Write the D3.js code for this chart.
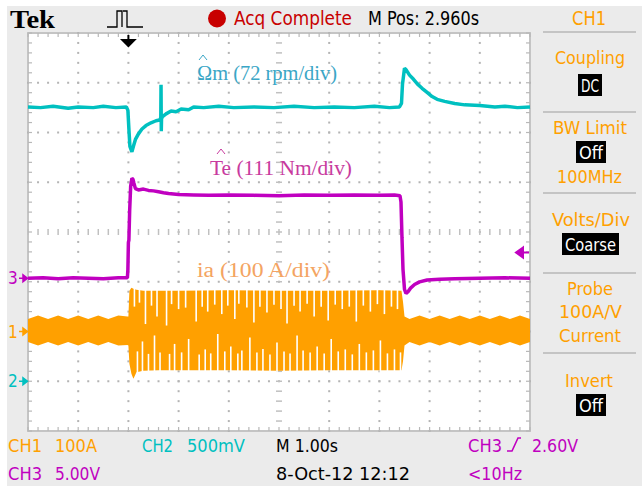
<!DOCTYPE html>
<html>
<head>
<meta charset="utf-8">
<script src="https://cdn.jsdelivr.net/npm/d3@7"></script>
<style>
body { margin: 0; background: #fff; }
</style>
</head>
<body>
<svg id="scope"></svg>
<script>
const W = 642, H = 486;
const X0 = 28, X1 = 530, Y0 = 33, Y1 = 431;

// time in s across the screen (M 1.00s/div, 10 div)
// CH2 : rotor speed, 72 rpm/div, ground marker at -3 div
const speedT = [0, 0.25, 0.5, 0.8, 1.0, 1.3, 1.5, 1.75, 1.96, 1.99, 2.01, 2.03, 2.07, 2.1, 2.14, 2.2, 2.27, 2.35, 2.45, 2.55, 2.62, 2.645, 2.65, 2.655, 2.66, 2.68, 2.75, 2.85, 2.95, 3.05, 3.2, 3.3, 3.5, 3.8, 4.1, 4.5, 4.9, 5.3, 5.7, 6.1, 6.5, 6.9, 7.2, 7.4, 7.44, 7.46, 7.5, 7.54, 7.6, 7.68, 7.76, 7.85, 7.95, 8.05, 8.15, 8.3, 8.5, 8.7, 9.0, 9.3, 9.5, 9.75, 10];
const speedRpm = [397, 396, 398, 395, 397, 396, 398, 396, 397, 392, 365, 340, 332, 340, 350, 358, 365, 370, 374, 377, 378, 381, 429, 362, 380, 383, 387, 391, 390, 394, 393, 397, 396, 398, 396, 397, 396, 398, 396, 397, 396, 398, 396, 397, 402, 430, 453, 450, 443, 437, 430, 424, 418, 412, 408, 405, 402, 400, 399, 397, 398, 396, 397];

// CH3 : electromagnetic torque, 111 Nm/div
const torqueT = [0, 0.3, 0.6, 0.9, 1.2, 1.5, 1.8, 1.98, 1.99, 2.0, 2.01, 2.025, 2.045, 2.07, 2.09, 2.11, 2.14, 2.2, 2.3, 2.4, 2.5, 2.6, 2.7, 2.8, 3.0, 3.3, 3.6, 4.0, 4.5, 5.0, 5.5, 6.0, 6.5, 7.0, 7.3, 7.41, 7.43, 7.45, 7.47, 7.5, 7.53, 7.57, 7.62, 7.7, 7.8, 7.95, 8.2, 8.5, 9.0, 9.5, 10];
const torqueNm = [0, 1, -1, 1, 0, -1, 1, 1, 20, 80, 85, 150, 205, 223, 221, 212, 200, 197, 199, 196, 195, 193, 191, 189, 187, 186, 185, 186, 185, 184, 186, 185, 186, 185, 186, 184, 170, 90, 20, -25, -34, -30, -22, -14, -8, -4, -2, -1, 0, 1, 0];

// CH1 : phase current envelope, 100 A/div
const iaT = [0, 0.2, 0.4, 0.6, 0.8, 1.0, 1.2, 1.4, 1.6, 1.8, 1.98, 2.0, 2.02, 2.06, 2.1, 2.16, 2.3, 2.6, 3.0, 4.0, 5.0, 6.0, 7.0, 7.44, 7.47, 7.5, 7.6, 7.8, 8.0, 8.2, 8.4, 8.6, 8.8, 9.0, 9.2, 9.4, 9.6, 9.8, 10];
const iaHigh = [25, 32, 25, 32, 25, 32, 25, 32, 25, 32, 30, 30, 82, 88, 86, 84, 82, 82, 82, 83, 82, 82, 83, 82, 60, 30, 25, 32, 25, 32, 25, 32, 25, 32, 25, 32, 25, 32, 25];
const iaLow = [-21, -28, -21, -28, -21, -28, -21, -28, -21, -28, -27, -28, -65, -85, -95, -82, -79, -78, -78, -78, -79, -78, -78, -78, -60, -28, -21, -28, -21, -28, -21, -28, -21, -28, -21, -28, -21, -28, -21];

// gaps in the current trace (aliasing stripes)
const stripeT = [2.12, 2.22, 2.34, 2.46, 2.57, 2.76, 2.86, 3.0, 3.14, 3.35, 3.47, 3.58, 3.72, 3.86, 3.98, 4.12, 4.2, 4.36, 4.5, 4.62, 4.76, 4.9, 5.04, 5.16, 5.3, 5.42, 5.56, 5.7, 5.84, 5.98, 6.12, 6.26, 6.4, 6.54, 6.68, 6.82, 6.96, 7.1, 7.24, 7.36];
const stripeTop = [50, 58, 15, 52, 30, 12, 55, 45, 48, 20, 50, 40, 54, 35, 52, 25, 56, 48, 18, 50, 38, 54, 45, 16, 52, 40, 56, 30, 50, 22, 54, 45, 50, 20, 52, 40, 55, 35, 50, 45];
const stripeBot = [-40, -20, -45, -8, -42, -45, -25, -42, -15, -46, -36, -44, -5, -40, -30, -44, -38, -12, -42, -35, -46, -22, -40, -44, -8, -38, -42, -30, -44, -15, -40, -36, -46, -25, -42, -38, -18, -44, -36, -42];

const CYAN = '#00c0c0', MAGENTA = '#c000c0', ORANGE = '#ffa000', RED = '#c80000';
const FONT = '"DejaVu Sans Condensed", "Liberation Sans Narrow", sans-serif';

const svg = d3.select('#scope').attr('width', W).attr('height', H);

svg.append('rect').attr('width', W).attr('height', H).attr('fill', '#fff');
svg.append('rect').attr('x', 7).attr('y', 6).attr('width', W - 7).attr('height', H - 6).attr('fill', '#ebebeb');

const x = d3.scaleLinear().domain([0, 10]).range([X0, X1]);
const y = d3.scaleLinear().domain([-4, 4]).range([Y1, Y0]);

// channel offsets in div
const ch1Pos = -2, ch2Pos = -3, ch3Pos = -0.93;
const ySpeed = v => y(v / 72 + ch2Pos);
const yTorque = v => y(v / 111 + ch3Pos);
const yCurrent = v => y(v / 100 + ch1Pos);

// graticule
svg.append('rect')
	.attr('x', X0).attr('y', Y0).attr('width', X1 - X0).attr('height', Y1 - Y0)
	.attr('fill', '#fff').attr('stroke', '#c4c4c4').attr('stroke-width', 2);

const grid = svg.append('g');
const minorX = d3.range(0, 10.001, 0.2);
const minorY = d3.range(-4, 4.001, 0.2);

// dotted major lines
d3.range(-3, 4).filter(d => d !== 0).forEach(row => {
	grid.selectAll(null).data(minorX).enter().append('rect')
		.attr('x', d => x(d) - 1).attr('y', y(row) - 1).attr('width', 2).attr('height', 2)
		.attr('fill', '#b4b4b4');
});
d3.range(1, 10).filter(d => d !== 5).forEach(col => {
	grid.selectAll(null).data(minorY).enter().append('rect')
		.attr('x', x(col) - 1).attr('y', d => y(d) - 1).attr('width', 2).attr('height', 2)
		.attr('fill', '#b4b4b4');
});

// centre lines with tick marks
grid.selectAll(null).data(minorX).enter().append('line')
	.attr('x1', d => x(d)).attr('x2', d => x(d))
	.attr('y1', y(0) - 3).attr('y2', y(0) + 3)
	.attr('stroke', '#c0c0c0').attr('stroke-width', 1.5);
grid.selectAll(null).data(minorY).enter().append('line')
	.attr('y1', d => y(d)).attr('y2', d => y(d))
	.attr('x1', x(5) - 3).attr('x2', x(5) + 3)
	.attr('stroke', '#c0c0c0').attr('stroke-width', 1.5);

// border ticks
grid.selectAll(null).data(minorX).enter().append('line')
	.attr('x1', d => x(d)).attr('x2', d => x(d)).attr('y1', Y0).attr('y2', Y0 + 4)
	.attr('stroke', '#b8b8b8').attr('stroke-width', 1.2);
grid.selectAll(null).data(minorX).enter().append('line')
	.attr('x1', d => x(d)).attr('x2', d => x(d)).attr('y1', Y1).attr('y2', Y1 - 4)
	.attr('stroke', '#b8b8b8').attr('stroke-width', 1.2);
grid.selectAll(null).data(minorY).enter().append('line')
	.attr('y1', d => y(d)).attr('y2', d => y(d)).attr('x1', X0).attr('x2', X0 + 4)
	.attr('stroke', '#b8b8b8').attr('stroke-width', 1.2);
grid.selectAll(null).data(minorY).enter().append('line')
	.attr('y1', d => y(d)).attr('y2', d => y(d)).attr('x1', X1).attr('x2', X1 - 4)
	.attr('stroke', '#b8b8b8').attr('stroke-width', 1.2);

// CH1 current
const iaData = iaT.map((t, i) => [t, iaHigh[i], iaLow[i]]);
svg.append('path')
	.datum(iaData)
	.attr('fill', ORANGE)
	.attr('d', d3.area().x(d => x(d[0])).y0(d => yCurrent(d[2])).y1(d => yCurrent(d[1])));

const stripes = stripeT.map((t, i) => ({t: t, top: stripeTop[i], bot: stripeBot[i]}));
svg.selectAll('.gapTop').data(stripes).enter().append('line')
	.attr('class', 'gapTop')
	.attr('x1', d => x(d.t)).attr('x2', d => x(d.t))
	.attr('y1', yCurrent(90)).attr('y2', d => yCurrent(d.top))
	.attr('stroke', '#fff').attr('stroke-width', 1.6);
svg.selectAll('.gapBot').data(stripes).enter().append('line')
	.attr('class', 'gapBot')
	.attr('x1', d => x(d.t + 0.06)).attr('x2', d => x(d.t + 0.06))
	.attr('y1', yCurrent(-96)).attr('y2', d => yCurrent(d.bot))
	.attr('stroke', '#fff').attr('stroke-width', 1.6);

// CH3 torque
svg.append('path')
	.datum(torqueT.map((t, i) => [t, torqueNm[i]]))
	.attr('fill', 'none').attr('stroke', MAGENTA).attr('stroke-width', 3.5)
	.attr('stroke-linejoin', 'bevel')
	.attr('d', d3.line().x(d => x(d[0])).y(d => yTorque(d[1])));

// CH2 speed
svg.append('path')
	.datum(speedT.map((t, i) => [t, speedRpm[i]]))
	.attr('fill', 'none').attr('stroke', CYAN).attr('stroke-width', 3.5)
	.attr('stroke-linejoin', 'bevel')
	.attr('d', d3.line().x(d => x(d[0])).y(d => ySpeed(d[1])));

// trace labels (hats drawn as small chevrons)
const serif = '"Liberation Serif", "DejaVu Serif", serif';
const addLabel = (tx, ty, str, col, len) => {
	svg.append('text').attr('x', tx).attr('y', ty)
		.attr('font-family', serif).attr('font-size', 20).attr('fill', col)
		.attr('textLength', len).attr('lengthAdjust', 'spacingAndGlyphs')
		.text(str);
};
const addHat = (hx, hy, col) => {
	svg.append('path')
		.attr('d', `M${hx - 4},${hy + 5}L${hx},${hy}L${hx + 4},${hy + 5}`)
		.attr('fill', 'none').attr('stroke', col).attr('stroke-width', 1);
};
addLabel(197, 80, '\u03A9m (72 rpm/div)', '#3aa6c6', 140);
addHat(203, 55, '#3aa6c6');
addLabel(210, 175, 'Te (111 Nm/div)', '#c83a9e', 142);
addHat(221, 149, '#c83a9e');
addLabel(197, 277, 'ia (100 A/div)', '#f4a462', 133);

// ground markers
const markers = [
	{label: '3', pos: ch3Pos, col: MAGENTA},
	{label: '1', pos: ch1Pos, col: ORANGE},
	{label: '2', pos: ch2Pos, col: CYAN}
];
markers.forEach(m => {
	const yy = y(m.pos);
	svg.append('text').attr('x', 8).attr('y', yy + 6)
		.attr('font-family', FONT).attr('font-size', 17).attr('fill', m.col).text(m.label);
	svg.append('path')
		.attr('d', `M19,${yy}H27M23,${yy - 3.5}L27.5,${yy}L23,${yy + 3.5}Z`)
		.attr('stroke', m.col).attr('stroke-width', 1.5).attr('fill', m.col);
});

// trigger level marker
const trigY = 252.5;
svg.append('path')
	.attr('d', `M529,${trigY}H517M523,${trigY - 5}L516,${trigY}L523,${trigY + 5}Z`)
	.attr('stroke', MAGENTA).attr('stroke-width', 2).attr('fill', MAGENTA);

// trigger position marker
const trigX = x(2);
svg.append('path')
	.attr('d', `M${trigX},35V40M${trigX - 6},40H${trigX + 6}L${trigX},46Z`)
	.attr('stroke', '#000').attr('stroke-width', 2).attr('fill', '#000');

// header
svg.append('text').attr('x', 10).attr('y', 28)
	.attr('font-family', serif).attr('font-weight', 'bold').attr('font-size', 26)
	.attr('textLength', 45).attr('lengthAdjust', 'spacingAndGlyphs').text('Tek');
svg.append('path')
	.attr('d', 'M107,27H117V11H122V27M123,11H127V27H143')
	.attr('fill', 'none').attr('stroke', '#000').attr('stroke-width', 1.3)
	.attr('stroke-dasharray', null);
svg.append('circle').attr('cx', 217).attr('cy', 18.5).attr('r', 9).attr('fill', RED);

const addText = (tx, ty, str, col, len, size) => {
	svg.append('text').attr('x', tx).attr('y', ty)
		.attr('font-family', FONT).attr('font-size', size || 18).attr('fill', col)
		.attr('textLength', len).attr('lengthAdjust', 'spacingAndGlyphs')
		.text(str);
};
addText(234, 25, 'Acq Complete', RED, 118, 19);
addText(368, 25, 'M Pos: 2.960s', '#000', 111, 19);
addText(572, 25, 'CH1', ORANGE, 34, 19);

// side menu
const seps = [32, 112, 193, 273, 353];
svg.selectAll('.sep').data(seps).enter().append('line')
	.attr('class', 'sep')
	.attr('x1', 543).attr('x2', 636).attr('y1', d => d).attr('y2', d => d)
	.attr('stroke', '#c4c4c4').attr('stroke-width', 2);

const boxed = (bx, by, bw, bh, str) => {
	svg.append('rect').attr('x', bx).attr('y', by).attr('width', bw).attr('height', bh).attr('fill', '#000');
	svg.append('text').attr('x', bx + bw / 2).attr('y', by + bh - 4)
		.attr('font-family', FONT).attr('font-size', 18).attr('fill', '#fff')
		.attr('text-anchor', 'middle')
		.attr('textLength', bw - 6).attr('lengthAdjust', 'spacingAndGlyphs')
		.text(str);
};
addText(555, 64, 'Coupling', ORANGE, 70);
boxed(578, 74, 24, 22, 'DC');
addText(553, 134, 'BW Limit', ORANGE, 74);
boxed(576, 141, 30, 22, 'Off');
addText(557, 183, '100MHz', ORANGE, 65);
addText(552, 226, 'Volts/Div', ORANGE, 78);
boxed(562, 233, 57, 22, 'Coarse');
addText(567, 295, 'Probe', ORANGE, 46);
addText(559, 318, '100A/V', ORANGE, 63);
addText(559, 342, 'Current', ORANGE, 62);
addText(565, 387, 'Invert', ORANGE, 48);
boxed(576, 394, 30, 22, 'Off');

// footer
addText(8, 452, 'CH1', ORANGE, 34);
addText(55, 452, '100A', ORANGE, 42);
addText(142, 452, 'CH2', CYAN, 31);
addText(187, 452, '500mV', CYAN, 58);
addText(276, 452, 'M 1.00s', '#000', 62);
addText(468, 452, 'CH3', MAGENTA, 34);
svg.append('path')
	.attr('d', 'M507,451H512L518,438H521')
	.attr('fill', 'none').attr('stroke', MAGENTA).attr('stroke-width', 1.6);
addText(532, 452, '2.60V', MAGENTA, 46);
addText(8, 480, 'CH3', MAGENTA, 34);
addText(55, 480, '5.00V', MAGENTA, 45);
addText(276, 480, '8-Oct-12 12:12', '#000', 134);
addText(468, 480, '<10Hz', MAGENTA, 54);
</script>
</body>
</html>
